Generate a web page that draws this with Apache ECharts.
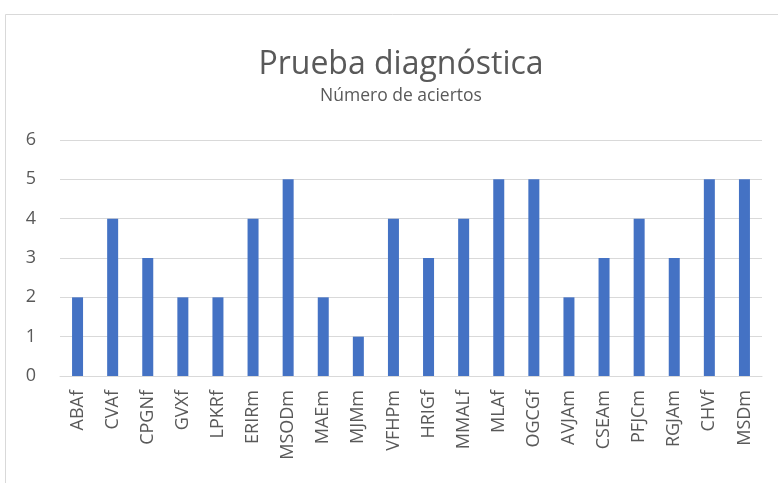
<!DOCTYPE html>
<html>
<head>
<meta charset="utf-8">
<script src="https://cdn.jsdelivr.net/npm/echarts@6/dist/echarts.min.js"></script>
<style>html,body{margin:0;padding:0;background:#fff;}#c{width:778px;height:483px;}</style>
</head>
<body>
<div id="c"></div>
<script>
const categories = ['ABAf','CVAf','CPGNf','GVXf','LPKRf','ERIRm','MSODm','MAEm','MJMm','VFHPm','HRIGf','MMALf','MLAf','OGCGf','AVJAm','CSEAm','PFJCm','RGJAm','CHVf','MSDm'];
const aciertos = [2,4,3,2,2,4,5,2,1,4,3,4,5,5,2,3,4,3,5,5];
const titleText = 'Prueba diagnóstica';
const subtitleText = 'Número de aciertos';

const chart = echarts.init(document.getElementById('c'), null, {renderer:'canvas'});
chart.setOption({
  animation: false,
  backgroundColor: '#ffffff',
  graphic: [{
    type: 'rect', silent: true,
    shape: {x: 5.5, y: 14.5, width: 900, height: 600},
    style: {fill: 'none', stroke: '#d9d9d9', lineWidth: 1}
  }],
  title: {
    text: titleText,
    subtext: subtitleText,
    left: 396, textAlign: 'center',
    top: 44,
    itemGap: 6,
    textStyle: {fontFamily: 'Open Sans', fontSize: 32, fontWeight: 'normal', color: '#595959'},
    subtextStyle: {fontFamily: 'Open Sans', fontSize: 17.5, color: '#595959'}
  },
  grid: {left: 60, right: 16, top: 140, bottom: 107, containLabel: false},
  xAxis: {
    type: 'category',
    data: categories,
    axisLine: {lineStyle: {color: '#d9d9d9', width: 1}},
    axisTick: {show: false},
    axisLabel: {rotate: 90, interval: 0, margin: 14, color: '#595959', fontFamily: 'Open Sans', fontSize: 18}
  },
  yAxis: {
    type: 'value', min: 0, max: 6, interval: 1,
    axisLine: {show: false}, axisTick: {show: false},
    splitLine: {lineStyle: {color: '#d9d9d9', width: 1}},
    axisLabel: {color: '#595959', fontFamily: 'Open Sans', fontSize: 18, margin: 24}
  },
  series: [{
    type: 'bar',
    data: aciertos,
    barWidth: 11,
    itemStyle: {color: '#4472C4'}
  }]
});
</script>
</body>
</html>
